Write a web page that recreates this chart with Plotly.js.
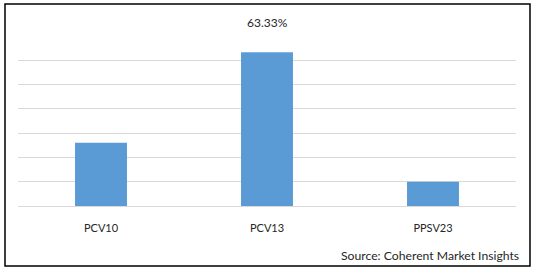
<!DOCTYPE html>
<html>
<head>
<meta charset="utf-8">
<script src="https://cdn.plot.ly/plotly-3.0.1.min.js"></script>
<style>html,body{margin:0;padding:0;background:#fff;}#chart{width:538px;height:272px;}</style>
</head>
<body>
<div id="chart"></div>
<script>
const categories = ['PCV10', 'PCV13', 'PPSV23'];
const shares = [26.0, 63.33, 10.0];
const labeledCategory = 'PCV13';
const labeledValue = 63.33;
const sourceText = 'Source: Coherent Market Insights';

const FONT = 'Lato, "Liberation Sans", sans-serif';

const trace = {
  type: 'bar',
  x: categories,
  y: shares,
  marker: {color: '#5b9bd5', line: {width: 0}},
  hoverinfo: 'skip'
};

const layout = {
  width: 538,
  height: 272,
  margin: {l: 18, r: 22, t: 36, b: 66},
  paper_bgcolor: '#ffffff',
  plot_bgcolor: '#ffffff',
  showlegend: false,
  bargap: 0.687,
  font: {family: FONT, size: 11, color: '#404040'},
  xaxis: {
    type: 'category',
    showgrid: false,
    showline: false,
    zeroline: false,
    ticks: '',
    tickfont: {family: FONT, size: 11, color: '#262626'},
    ticklabelstandoff: 14
  },
  yaxis: {
    range: [0, 70],
    dtick: 10,
    showticklabels: false,
    showgrid: true,
    gridcolor: '#d9d9d9',
    gridwidth: 1,
    zeroline: true,
    zerolinecolor: '#d9d9d9',
    zerolinewidth: 1,
    showline: false,
    ticks: ''
  },
  annotations: [
    {
      x: labeledCategory, y: labeledValue, xref: 'x', yref: 'y',
      text: labeledValue.toFixed(2) + '%', showarrow: false,
      xanchor: 'center', yanchor: 'bottom', yshift: 20,
      font: {family: FONT, size: 12, color: '#262626'}
    },
    {
      x: 1.010, y: -0.294, xref: 'paper', yref: 'paper',
      text: sourceText, showarrow: false,
      xanchor: 'right', yanchor: 'middle',
      font: {family: FONT, size: 12.2, color: '#262626'}
    }
  ],
  shapes: [
    {
      type: 'rect', xref: 'paper', yref: 'paper',
      x0: -0.0261, x1: 1.0281, y0: -0.3529, y1: 1.188,
      line: {color: '#000000', width: 1.5}, fillcolor: 'rgba(0,0,0,0)'
    }
  ]
};

Plotly.newPlot('chart', [trace], layout, {displayModeBar: false, staticPlot: true});
</script>
</body>
</html>
